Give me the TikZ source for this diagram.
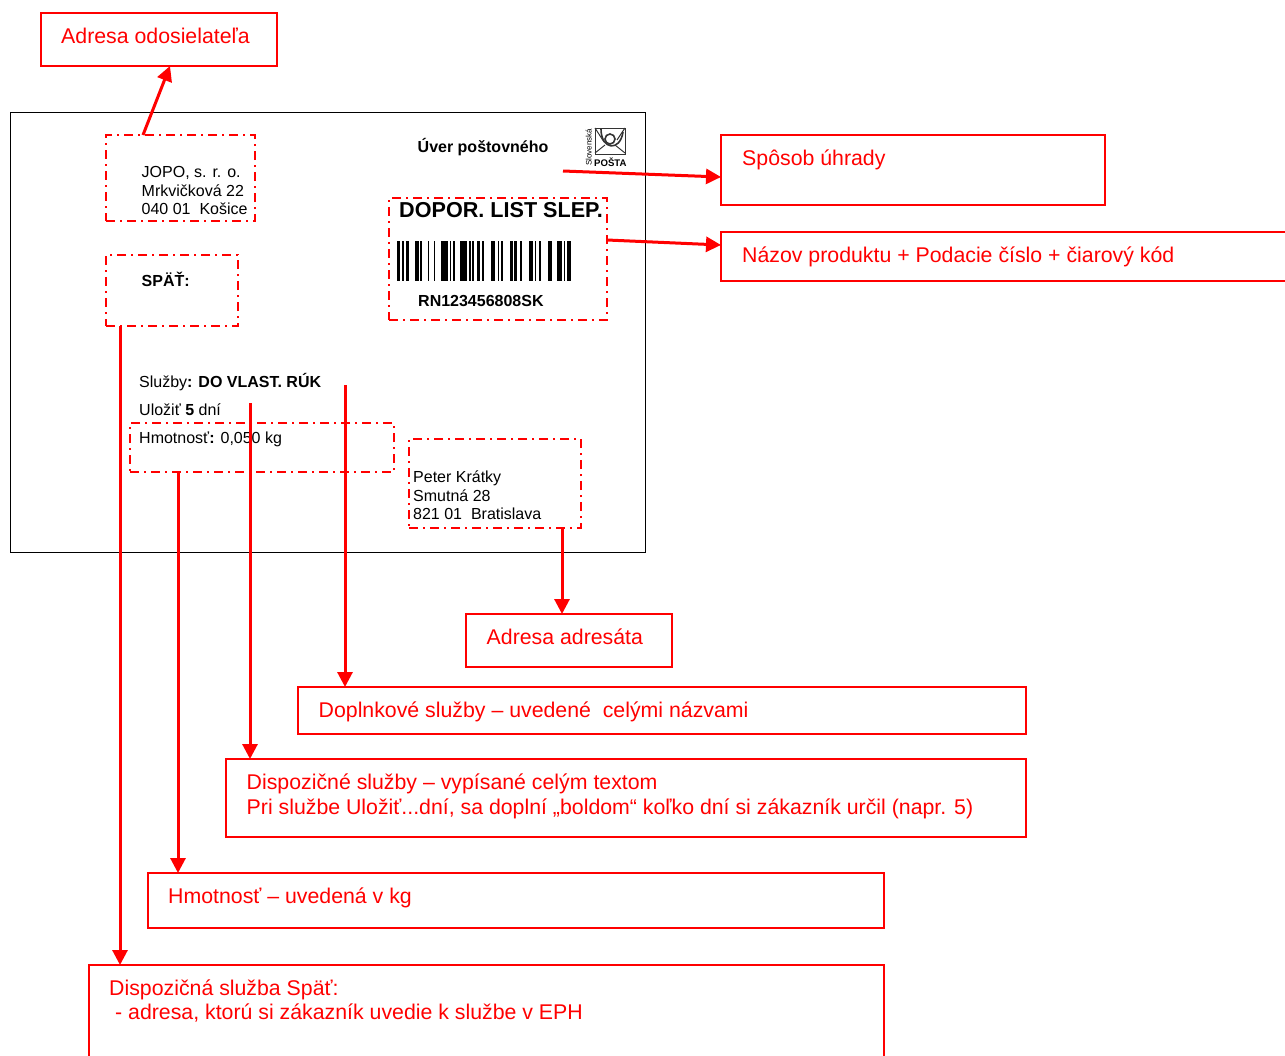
\documentclass[tikz,border=0pt]{standalone}
\usepackage{fontspec}
\setmainfont{Liberation Sans}
\usepackage{tikz}
\usetikzlibrary{arrows.meta}
\usetikzlibrary{positioning}
\definecolor{labelred}{RGB}{255,0,0}
\tikzset{
	notebox/.style={draw=labelred, line width=2pt, inner sep=0pt, outer sep=0pt, anchor=north west},
	fieldbox/.style={draw=labelred, line width=2pt, inner sep=0pt, outer sep=0pt, anchor=north west,
		dash pattern=on 9pt off 5pt on 2pt off 5pt},
	notetext/.style={text=labelred, inner sep=0pt, anchor=base west, font=\fontsize{21.3}{25}\selectfont},
	cardtext/.style={text=black, inner sep=0pt, anchor=base west, font=\fontsize{16}{19}\selectfont},
	pointer/.style={draw=labelred, line width=3pt, -{Triangle[length=15pt,width=15pt]}},
}
\begin{document}
\begin{tikzpicture}[x=1pt, y=-1pt]
	\useasboundingbox (0,0) rectangle (1285,1055);
	\clip (0,0) rectangle (1285,1055);
	% the card
	\node[draw=black, line width=1pt, inner sep=0pt, outer sep=0pt, anchor=north west,
		minimum width=635pt, minimum height=440pt] (card) at (10,112) {};
	% dashed fields on the card
	\node[fieldbox, minimum width=149pt, minimum height=86pt] (sender) at (106,135) {};
	\node[fieldbox, minimum width=132pt, minimum height=71pt] (return) at (106,255) {};
	\node[fieldbox, minimum width=218pt, minimum height=122pt] (product) at (389,198) {};
	\node[fieldbox, minimum width=264pt, minimum height=49pt] (weight) at (130,423) {};
	\node[fieldbox, minimum width=172pt, minimum height=89pt] (addressee) at (409,439) {};
	% card texts
	\node[cardtext] (jopo) at (141.5,177) {JOPO, s. r. o.};
	\node[cardtext] (street) at (141.5,196) {Mrkvičková 22};
	\node[cardtext] (city) at (141.5,214) {040 01~~Košice};
	\node[cardtext] (spat) at (141.5,286) {\bfseries SPÄŤ:};
	\node[cardtext] (credit) at (417.5,152) {\bfseries Úver poštovného};
	\node[cardtext, font=\fontsize{21.6}{24}\selectfont\bfseries] (list) at (399,217) {DOPOR. LIST SLEP.};
	\node[cardtext] (number) at (418,306) {\bfseries RN123456808SK};
	\node[cardtext] (services) at (139,387) {Služby\textbf{: DO VLAST. RÚK}};
	\node[cardtext] (store) at (139,415) {Uložiť \textbf{5} dní};
	\node[cardtext] (mass) at (139,443) {Hmotnosť\textbf{:} 0,050 kg};
	\node[cardtext] (peter) at (413,482) {Peter Krátky};
	\node[cardtext] (smutna) at (413,501) {Smutná 28};
	\node[cardtext] (bratislava) at (413,519) {821 01~~Bratislava};
	% bar code
	\foreach \xa/\xb in {396.7/400.3,402/403.7,406.3/408.7,415.3/418.7,420.3/422,427.7/429.3,433.7/435.3,
		441.3/448,449.7/451.3,453/454.7,460.3/467,469/470.7,472/473.7,477/479.5,481.5/484,491/494.7,
		497.7/499.3,501/503,510.3/512.7,514.3/517,520.3/522,529.3/532.7,534.7/536.3,538.7/541,
		547.7/551.7,557/562,563.7/565.3,567/570.7}
		\fill[black] (\xa,241) rectangle (\xb,281);
	% post logo
	\draw[black!80, line width=1pt] (595,128) rectangle (625,154);
	\draw[black!80, line width=1pt] (595,128) -- (604,142) (595,153) -- (605,145) (625,153) -- (615,145) (625,128) -- (617,140);
	\draw[black!80, line width=1.6pt] (601,129) .. controls (601,150) and (620,152) .. (623,132);
	\draw[black!80, line width=1.6pt] (610,139) circle (5pt);
	\node[cardtext, font=\fontsize{9.6}{12}\selectfont\bfseries] (posta) at (594,166) {POŠTA};
	\node[cardtext, font=\fontsize{8}{9}\selectfont, rotate=90] (slovenska) at (591.5,166) {Slovenská};
	% explanation boxes
	\node[notebox, minimum width=236pt, minimum height=53pt] (fromnote) at (41,13) {};
	\node[notebox, minimum width=384pt, minimum height=70pt] (paynote) at (721,135) {};
	\node[notebox, minimum width=580pt, minimum height=49pt] (productnote) at (721,232) {};
	\node[notebox, minimum width=206pt, minimum height=53pt] (tonote) at (466,614) {};
	\node[notebox, minimum width=728pt, minimum height=47pt] (extranote) at (298,687) {};
	\node[notebox, minimum width=800pt, minimum height=78pt] (disponote) at (226,759) {};
	\node[notebox, minimum width=736pt, minimum height=55pt] (massnote) at (148,873) {};
	\node[notebox, minimum width=795pt, minimum height=140pt] (returnnote) at (89,965) {};
	\node[notetext] (fromtext) at (61,43) {Adresa odosielateľa};
	\node[notetext] (paytext) at (742,165) {Spôsob úhrady};
	\node[notetext] (producttext) at (742,262) {Názov produktu + Podacie číslo + čiarový kód};
	\node[notetext] (totext) at (486.5,644) {Adresa adresáta};
	\node[notetext] (extratext) at (318.5,717) {Doplnkové služby – uvedené~~celými názvami};
	\node[notetext] (dispotext) at (246.5,789) {Dispozičné služby – vypísané celým textom};
	\node[notetext] (dispotextb) at (246.5,814) {Pri službe Uložiť...dní, sa doplní „boldom“ koľko dní si zákazník určil (napr. 5)};
	\node[notetext] (masstext) at (168,903) {Hmotnosť – uvedená v kg};
	\node[notetext] (returntext) at (109,995) {Dispozičná služba Späť:};
	\node[notetext] (returntextb) at (115,1019) {- adresa, ktorú si zákazník uvedie k službe v EPH};
	% free ends of the pointers
	\coordinate (creditout) at (563,171);
	\coordinate (servicesout) at (345,385);
	\coordinate (storeout) at (250,403);
	% pointers
	\draw[pointer] ([xshift=-37.5pt]sender.north) -- ([xshift=11pt]fromnote.south);
	\draw[pointer] (creditout) -- ([yshift=-7pt]paynote.west);
	\draw[pointer] ([yshift=19pt]product.east) -- ([yshift=11.5pt]productnote.west);
	\draw[pointer] ([xshift=67pt]addressee.south) -- ([xshift=-7pt]tonote.north);
	\draw[pointer] (servicesout) -- ([xshift=-317pt]extranote.north);
	\draw[pointer] (storeout) -- ([xshift=-376pt]disponote.north);
	\draw[pointer] ([xshift=-84pt]weight.south) -- ([xshift=-338pt]massnote.north);
	\draw[pointer] ([xshift=-52pt]return.south) -- ([xshift=-366.5pt]returnnote.north);
\end{tikzpicture}
\end{document}
